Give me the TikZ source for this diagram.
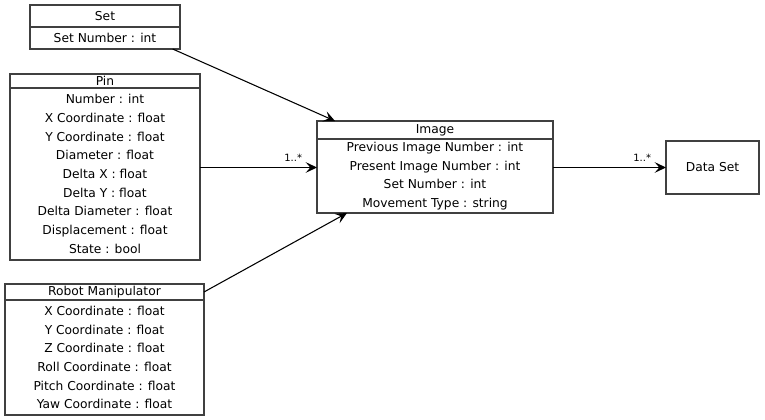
\documentclass[tikz,border=0pt]{standalone}
\usepackage{fontspec}
\setmainfont{DejaVu Sans}
\usetikzlibrary{arrows.meta,positioning}

\begin{document}
\begin{tikzpicture}[x=0.75pt,y=-0.75pt]
\tikzstyle classhead=[draw=black!75,line width=0.8pt,anchor=north west,inner sep=0pt,
    outer sep=0pt,font=\fontsize{9.2}{14}\selectfont]
\tikzstyle classbody=[classhead,align=center]
\tikzstyle assoc=[line width=0.8pt,-{Stealth[length=8.5pt,width=8pt,inset=3.5pt]}]
\tikzstyle mult=[inner sep=1pt,font=\fontsize{7.5}{9}\selectfont]
 \useasboundingbox (0,0) rectangle (765,420);
 % classes
 \node[classhead,minimum width=112.5pt,minimum height=16.5pt] (set) at (30,5) {Set};
 \node[classbody,minimum width=112.5pt,minimum height=16.5pt] (setattr) at (set.south west)
   {Set Number : int};
 \node[classhead,minimum width=142.5pt,minimum height=10.5pt] (pin) at (10,74) {Pin};
 \node[classbody,minimum width=142.5pt,minimum height=129pt] (pinattr) at (pin.south west)
   {Number : int\\ X Coordinate : float\\ Y Coordinate : float\\ Diameter : float\\
    Delta X : float\\ Delta Y : float\\ Delta Diameter : float\\ Displacement : float\\
    State : bool};
 \node[classhead,minimum width=149.25pt,minimum height=12pt] (robot) at (5,284)
   {Robot Manipulator};
 \node[classbody,minimum width=149.25pt,minimum height=86.25pt] (robotattr) at (robot.south west)
   {X Coordinate : float\\ Y Coordinate : float\\ Z Coordinate : float\\
    Roll Coordinate : float\\ Pitch Coordinate : float\\ Yaw Coordinate : float};
 \node[classhead,minimum width=177pt,minimum height=13.5pt] (image) at (317,121) {Image};
 \node[classbody,minimum width=177pt,minimum height=55.5pt] (imageattr) at (image.south west)
   {Previous Image Number : int\\ Present Image Number : int\\ Set Number : int\\
    Movement Type : string};
 \node[classhead,minimum width=69.75pt,minimum height=39.75pt] (dataset) at (666,141)
   {Data Set};
 % associations
 \draw[assoc] ([xshift=-5.5pt]setattr.south east) -- ([xshift=13.5pt]image.north west);
 \draw[assoc] (pinattr.east |- dataset) -- (imageattr.west |- dataset);
 \draw[assoc] (robot.east) -- ([xshift=22.5pt]imageattr.south west);
 \draw[assoc] (imageattr.east |- dataset) -- (dataset);
 \node[mult,above left=3pt and 10pt] (pinmult) at (imageattr.west |- dataset) {1..*};
 \node[mult,above left=3pt and 10pt] (imagemult) at (dataset.west) {1..*};
\end{tikzpicture}
\end{document}
